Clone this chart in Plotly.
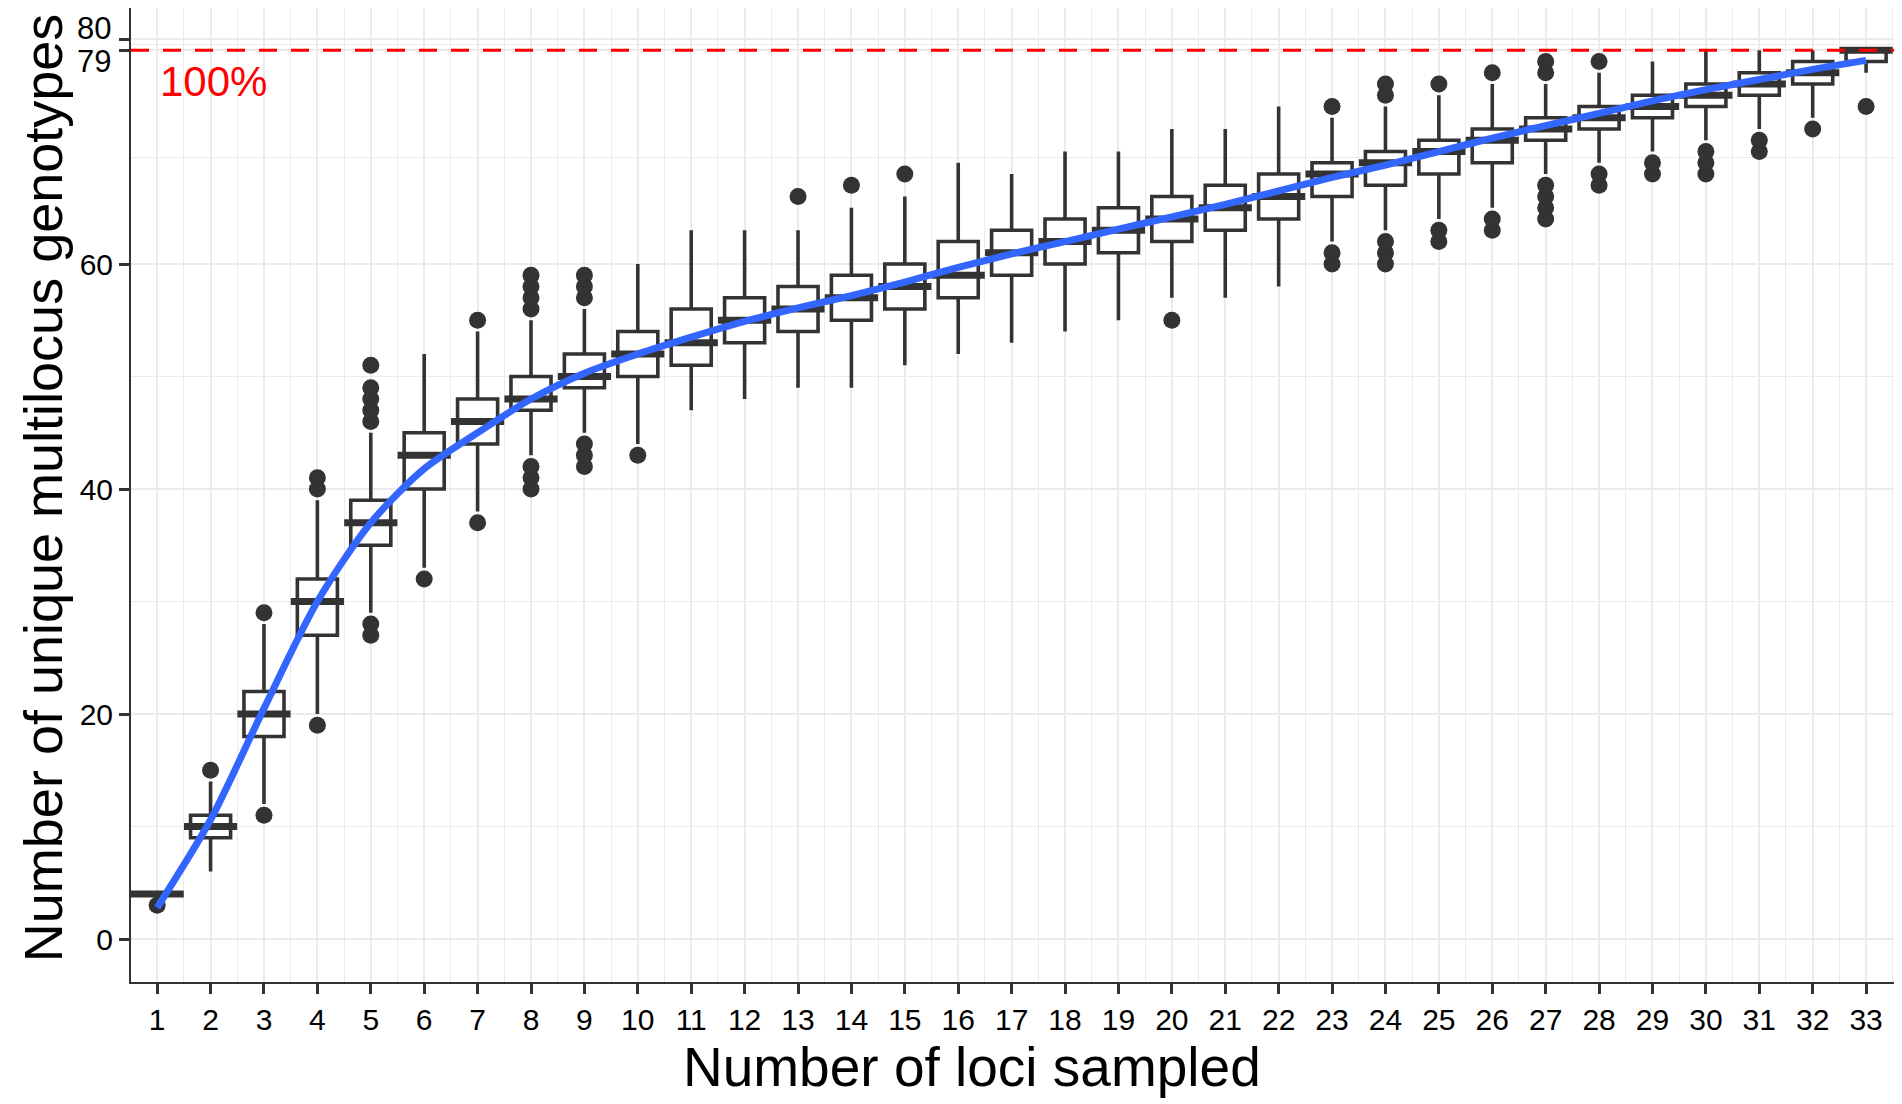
import plotly.graph_objects as go

# Number of loci sampled (x categories)
loci = list(range(1, 34))

# Box statistics, one value per number of loci
q1 = [4, 9, 18, 27, 35, 40, 44, 47, 49, 50, 51, 53, 54, 55, 56, 57, 59,
      60, 61, 62, 63, 64, 66, 67, 68, 69, 71, 72, 73, 74, 75, 76, 78]
median = [4, 10, 20, 30, 37, 43, 46, 48, 50, 52, 53, 55, 56, 57, 58, 59, 61,
          62, 63, 64, 65, 66, 68, 69, 70, 71, 72, 73, 74, 75, 76, 77, 79]
q3 = [4, 11, 22, 32, 39, 45, 48, 50, 52, 54, 56, 57, 58, 59, 60, 62, 63,
      64, 65, 66, 67, 68, 69, 70, 71, 72, 73, 74, 75, 76, 77, 78, 79]
whisker_low = [4, 6, 12, 20, 29, 33, 38, 43, 45, 44, 47, 48, 49, 49, 51, 52, 53,
               54, 55, 57, 57, 58, 62, 63, 64, 65, 68, 69, 70, 71, 72, 73, 77]
whisker_high = [4, 14, 28, 39, 45, 52, 54, 55, 56, 60, 63, 63, 63, 65, 66, 69, 68,
                70, 70, 72, 72, 74, 73, 74, 75, 76, 76, 77, 78, 79, 79, 79, 79]

# Outlying values per number of loci
outliers = [
    [3], [15], [11, 29], [19, 40, 41], [27, 28, 46, 47, 48, 49, 51], [32],
    [37, 55], [40, 41, 42, 56, 57, 58, 59], [42, 43, 44, 57, 58, 59], [43],
    [], [], [66], [67], [68], [], [], [], [], [55], [], [],
    [60, 61, 74], [60, 61, 62, 75, 76], [62, 63, 76], [63, 64, 77],
    [64, 65, 66, 67, 77, 78], [67, 68, 78], [68, 69], [68, 69, 70],
    [70, 71], [72], [74],
]

# Smoothed trend (blue curve)
smooth_fit = [2.8, 10.6, 20.5, 30.0, 37.0, 41.8, 45.0, 48.0, 50.3, 52.0, 53.5,
              54.9, 56.1, 57.2, 58.4, 59.7, 60.9, 62.0, 63.1, 64.2, 65.3, 66.5,
              67.7, 68.8, 70.0, 71.2, 72.3, 73.4, 74.5, 75.5, 76.4, 77.3, 78.1]

total_mlg = 79  # total multilocus genotypes (100%)
y_ticks = [0, 20, 40, 60]
y_top_ticks = [80, 79]  # labelled apart, 80 above its tick and 79 below

out_x = [x for x, vals in zip(loci, outliers) for _ in vals]
out_y = [v for vals in outliers for v in vals]

dark = "#333333"
grid = "#EBEBEB"
font = "Liberation Sans, Arial, sans-serif"

fig = go.Figure()

fig.add_trace(go.Box(
    x=loci, q1=q1, median=median, q3=q3,
    lowerfence=whisker_low, upperfence=whisker_high,
    width=0.75, whiskerwidth=0, boxpoints=False,
    fillcolor="white", line=dict(color=dark, width=3.6),
    showlegend=False, hoverinfo="skip",
))

# thick median bars like ggplot
fig.add_trace(go.Scatter(
    x=loci, y=median, mode="markers",
    marker=dict(symbol="line-ew", size=38, line=dict(color=dark, width=7)),
    showlegend=False, hoverinfo="skip",
))

fig.add_trace(go.Scatter(
    x=out_x, y=out_y, mode="markers",
    marker=dict(color=dark, size=17, line=dict(width=0)),
    showlegend=False, hoverinfo="skip",
))

fig.add_trace(go.Scatter(
    x=loci, y=smooth_fit, mode="lines",
    line=dict(color="#3366FF", width=7, shape="spline", smoothing=0.8),
    showlegend=False, hoverinfo="skip",
))

fig.add_hline(y=total_mlg, line=dict(color="red", width=3, dash="18px,14px"))

fig.add_annotation(
    x=loci[0], y=total_mlg - 2.8, text="100%", showarrow=False,
    xanchor="left", yanchor="middle", xshift=1,
    font=dict(family=font, size=42, color="red"),
)

# 80 / 79 tick labels pushed apart
for val, shift in zip(y_top_ticks, [11, -11]):
    fig.add_annotation(
        xref="paper", x=0, y=val, text=str(val), showarrow=False,
        xanchor="right", yanchor="middle", xshift=-18, yshift=shift,
        font=dict(family=font, size=31, color="black"),
    )

# axis titles
fig.add_annotation(
    xref="paper", yref="paper", x=0.4765, y=0, yshift=-85,
    text="Number of loci sampled", showarrow=False,
    xanchor="center", yanchor="middle",
    font=dict(family=font, size=55, color="black"),
)
fig.add_annotation(
    xref="paper", yref="paper", x=0, y=0.507, xshift=-88,
    text="Number of unique multilocus genotypes", showarrow=False, textangle=-90,
    xanchor="center", yanchor="middle",
    font=dict(family=font, size=54, color="black"),
)

fig.update_layout(
    width=1902, height=1104,
    margin=dict(l=123, r=14, t=0, b=130),
    paper_bgcolor="white", plot_bgcolor="white",
    font=dict(family=font, color="black"),
)

fig.update_xaxes(
    range=[0.51, 33.56], tickmode="array", tickvals=loci,
    ticktext=[str(v) for v in loci],
    ticks="outside", ticklen=10, tickwidth=3, tickcolor=dark,
    tickfont=dict(size=30, color="black"),
    showgrid=True, gridcolor=grid, gridwidth=2,
    minor=dict(tick0=0.5, dtick=1, showgrid=True, gridcolor=grid, gridwidth=1.2),
    showline=True, linecolor=dark, linewidth=2, mirror=True, zeroline=False,
    automargin=False,
)

fig.update_yaxes(
    range=[-3.82, 82.76], tickmode="array", tickvals=y_ticks + y_top_ticks,
    ticktext=[str(v) for v in y_ticks] + ["", ""],
    ticks="outside", ticklen=10, tickwidth=3, tickcolor=dark,
    tickfont=dict(size=30, color="black"),
    showgrid=True, gridcolor=grid, gridwidth=2,
    minor=dict(tickvals=[10, 30, 50, 69.5, 79.5], showgrid=True, gridcolor=grid, gridwidth=1.2),
    showline=True, linecolor=dark, linewidth=2, mirror=True, zeroline=False,
    automargin=False,
)

fig.write_html("out.html")
